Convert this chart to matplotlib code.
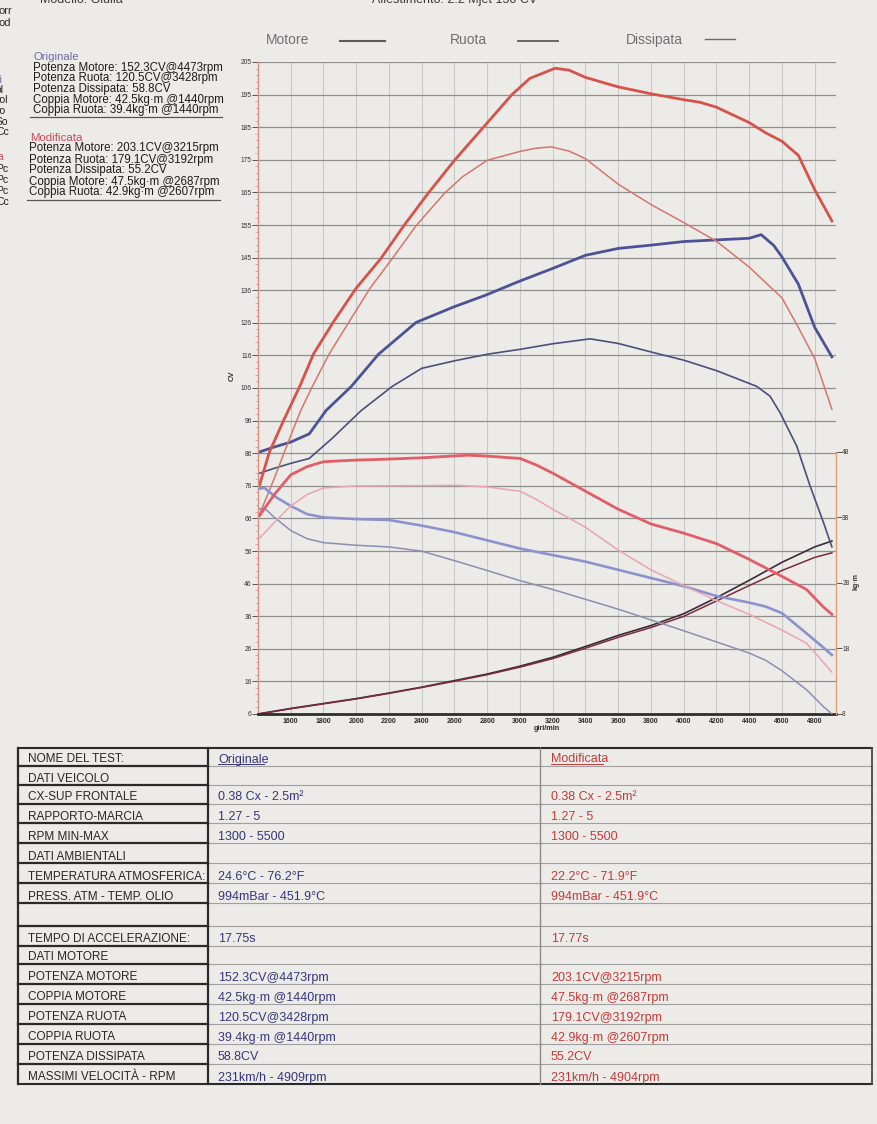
import matplotlib
matplotlib.use("Agg")
import matplotlib.pyplot as plt
from matplotlib.ticker import FixedLocator
import numpy as np

W, H = 878, 1124
PAPER = "#ecebe8"

# ---- power curves (CV) ----
mod_motore_rpm = [1410, 1470, 1560, 1655, 1740, 1865, 2000, 2150, 2290, 2440, 2600, 2775,
                  2950, 3060, 3215, 3300, 3400, 3600, 3800, 4000, 4100, 4200, 4400, 4500,
                  4600, 4700, 4800, 4905]
mod_motore_cv = [76, 86, 96, 106, 116, 126, 136, 145, 155, 165, 175, 185,
                 195, 200, 203.1, 202.5, 200.3, 197.4, 195.3, 193.5, 192.7, 191.2, 186.5, 183.4,
                 180.8, 176.5, 166, 156.5]

mod_ruota_rpm = [1410, 1500, 1600, 1660, 1732, 1836, 1960, 2085, 2220, 2365, 2540, 2650,
                 2800, 3000, 3100, 3192, 3300, 3400, 3600, 3800, 4000, 4200, 4400, 4600,
                 4700, 4800, 4905]
mod_ruota_cv = [67, 78, 91, 98.5, 106, 116, 126, 136, 145, 155, 165, 170,
                175, 177.7, 178.7, 179.1, 177.8, 175.5, 167.7, 161.5, 156, 150.3, 142.4, 133,
                124, 114.5, 99]

orig_motore_rpm = [1410, 1500, 1600, 1713, 1815, 1970, 2136, 2365, 2593, 2794, 2997, 3195,
                   3400, 3600, 3800, 4000, 4200, 4400, 4473, 4550, 4600, 4700, 4800, 4905]
orig_motore_cv = [86, 87.5, 89, 91.5, 98.6, 106, 115.8, 125.5, 130.2, 133.9, 138.1, 141.9,
                  146, 148.1, 149.1, 150.2, 150.7, 151.2, 152.3, 149, 145.5, 137.2, 124, 115]

orig_ruota_rpm = [1410, 1500, 1600, 1713, 1850, 2030, 2220, 2400, 2600, 2800, 3000, 3200,
                  3428, 3600, 3800, 4000, 4200, 4446, 4527, 4588, 4690, 4771, 4851, 4905]
orig_ruota_cv = [79.5, 81, 82.5, 84, 90, 98.6, 106, 111.5, 113.8, 115.8, 117.3, 119,
                 120.5, 119.1, 116.5, 114, 110.8, 106, 103, 98, 87.8, 75.7, 64.8, 57]

diss_rpm = [1400, 1600, 1800, 2000, 2200, 2400, 2600, 2800, 3000, 3200, 3400, 3600,
            3800, 4000, 4200, 4400, 4600, 4800, 4905]
diss_orig_cv = [6, 7.7, 9.2, 10.7, 12.4, 14.2, 16.2, 18.2, 20.6, 23.3, 26.6, 30,
                33, 36.6, 41.5, 46.8, 52.3, 57.0, 58.8]
diss_mod_cv = [6, 7.6, 9.1, 10.6, 12.3, 14.1, 16.0, 18.0, 20.3, 22.9, 26.1, 29.4,
               32.4, 35.8, 40.5, 45.2, 49.8, 53.8, 55.2]

# ---- torque curves (kg·m, right scale) ----
mod_coppia_rpm = [1410, 1500, 1600, 1700, 1800, 2000, 2200, 2400, 2687, 2800, 3000, 3100,
                  3200, 3400, 3600, 3800, 4000, 4200, 4400, 4600, 4750, 4850, 4905]
mod_coppia_kgm = [38.3, 41.5, 44.5, 45.75, 46.5, 46.75, 46.9, 47.1, 47.5, 47.35, 47.0, 46.0,
                  44.75, 42.0, 39.25, 37.0, 35.6, 34.0, 31.6, 29.0, 27.0, 24.4, 23.2]

mod_coppia_ruota_rpm = [1410, 1500, 1600, 1700, 1800, 2000, 2400, 2607, 2800, 3000, 3100,
                        3200, 3400, 3600, 3800, 4000, 4200, 4400, 4600, 4750, 4905]
mod_coppia_ruota_kgm = [34.85, 37.25, 39.75, 41.5, 42.5, 42.8, 42.85, 42.9, 42.65, 42.0, 40.75,
                        39.25, 36.5, 33.0, 30.0, 27.6, 25.3, 23.2, 20.8, 18.8, 14.4]

orig_coppia_rpm = [1410, 1440, 1500, 1600, 1700, 1800, 2000, 2200, 2400, 2600, 2800, 3000,
                   3200, 3400, 3600, 3800, 4000, 4200, 4400, 4500, 4600, 4750, 4850, 4905]
orig_coppia_kgm = [42.4, 42.5, 41.25, 39.75, 38.5, 38.0, 37.75, 37.6, 36.75, 35.75, 34.5, 33.25,
                   32.25, 31.25, 30.0, 28.75, 27.5, 26.0, 25.0, 24.4, 23.4, 20.3, 18.2, 17.0]
orig_coppia_ruota_kgm = [39.3, 39.4, 38.0, 36.0, 34.75, 34.15, 33.75, 33.5, 32.85, 31.4, 29.9, 28.35,
                         27.0, 25.5, 24.0, 22.35, 20.7, 19.0, 17.3, 16.2, 14.6, 11.7, 9.2, 8.0]

# ---- axis labels as printed ----
cv_labels = ["6", "16", "26", "36", "46", "56", "66", "76", "86", "96", "106", "116",
             "126", "136", "145", "155", "165", "175", "185", "195", "205"]
rpm_ticks = list(range(1600, 4801, 200))
kgm_ticks = [8, 18, 28, 38, 48]

# ---- summary texts ----
orig_summary = ["Potenza Motore: 152.3CV@4473rpm", "Potenza Ruota: 120.5CV@3428rpm",
                "Potenza Dissipata: 58.8CV", "Coppia Motore: 42.5kg·m @1440rpm",
                "Coppia Ruota: 39.4kg·m @1440rpm"]
mod_summary = ["Potenza Motore: 203.1CV@3215rpm", "Potenza Ruota: 179.1CV@3192rpm",
               "Potenza Dissipata: 55.2CV", "Coppia Motore: 47.5kg·m @2687rpm",
               "Coppia Ruota: 42.9kg·m @2607rpm"]

row_labels = ["NOME DEL TEST:", "DATI VEICOLO", "CX-SUP FRONTALE", "RAPPORTO-MARCIA",
              "RPM MIN-MAX", "DATI AMBIENTALI", "TEMPERATURA ATMOSFERICA:",
              "PRESS. ATM - TEMP. OLIO", "", "TEMPO DI ACCELERAZIONE:", "DATI MOTORE",
              "POTENZA MOTORE", "COPPIA MOTORE", "POTENZA RUOTA", "COPPIA RUOTA",
              "POTENZA DISSIPATA", "MASSIMI VELOCITÀ - RPM"]
col_orig = ["Originale", "", "0.38 Cx - 2.5m²", "1.27 - 5", "1300 - 5500", "",
            "24.6°C - 76.2°F", "994mBar - 451.9°C", "", "17.75s", "",
            "152.3CV@4473rpm", "42.5kg·m @1440rpm", "120.5CV@3428rpm",
            "39.4kg·m @1440rpm", "58.8CV", "231km/h - 4909rpm"]
col_mod = ["Modificata", "", "0.38 Cx - 2.5m²", "1.27 - 5", "1300 - 5500", "",
           "22.2°C - 71.9°F", "994mBar - 451.9°C", "", "17.77s", "",
           "203.1CV@3215rpm", "47.5kg·m @2687rpm", "179.1CV@3192rpm",
           "42.9kg·m @2607rpm", "55.2CV", "231km/h - 4904rpm"]

plt.rcParams['font.family'] = ['Liberation Sans', 'DejaVu Sans']


def px_rect(l, t, r, b):
    return [l / W, 1 - b / H, (r - l) / W, (b - t) / H]


fig = plt.figure(figsize=(W / 100, H / 100), dpi=100, facecolor=PAPER)

# page layer in pixel coordinates (texts, legend, table)
page = fig.add_axes([0, 0, 1, 1], zorder=0)
page.set_xlim(0, W)
page.set_ylim(H, 0)
page.set_axis_off()

# ---- chart ----
ax = fig.add_axes(px_rect(258, 62, 836, 714), zorder=2)
ax.set_facecolor("none")
ax.set_xlim(1400, 4930)
ax.set_ylim(6, 205)
cv_ticks = np.linspace(6, 205, len(cv_labels))
ax.set_yticks(cv_ticks)
ax.set_yticklabels(cv_labels)
ax.yaxis.set_minor_locator(FixedLocator(np.linspace(6, 205, 101)))
ax.set_xticks(rpm_ticks)
ax.set_xticklabels([str(t) for t in rpm_ticks])
ax.grid(axis="y", color="#8f8f8f", lw=0.9)
ax.grid(axis="x", color="#c8c8c8", lw=0.8)
ax.axvline(4930, color="#c8c8c8", lw=0.8)
ax.set_axisbelow(True)
for s in ("top", "right"):
    ax.spines[s].set_visible(False)
ax.spines["left"].set_color("#d9907f")
ax.spines["left"].set_linewidth(1.0)
ax.spines["bottom"].set_color("#2e2e2e")
ax.spines["bottom"].set_linewidth(2.0)
ax.tick_params(axis="y", which="major", labelsize=4.8, length=4, width=0.7,
               color="#555555", labelcolor="#333333", pad=0.5)
ax.tick_params(axis="y", which="minor", length=2, width=0.5, color="#e08a80")
ax.tick_params(axis="x", labelsize=5, length=0, pad=3, labelcolor="#2a2a2a")
for lab in ax.get_xticklabels():
    lab.set_fontweight("bold")
ax.set_xlabel("giri/min", fontsize=5.2, fontweight="bold", labelpad=0, color="#2a2a2a")

ax.plot(diss_rpm, diss_orig_cv, color="#3b2a3c", lw=1.2)
ax.plot(diss_rpm, diss_mod_cv, color="#7a2c3c", lw=1.1)
ax.plot(orig_ruota_rpm, orig_ruota_cv, color="#4a4f7c", lw=1.2)
ax.plot(orig_motore_rpm, orig_motore_cv, color="#4b5396", lw=2.0)
ax.plot(mod_ruota_rpm, mod_ruota_cv, color="#d6756c", lw=1.1)
ax.plot(mod_motore_rpm, mod_motore_cv, color="#d6524a", lw=2.0)

# torque on the kg·m scale (2 CV per kg·m, 8 kg·m at the bottom line)
ax2 = ax.twinx()
ax2.set_zorder(3)
ax2.patch.set_visible(False)
ax2.set_ylim(8, 8 + (205 - 6) / 2)
ax2.set_yticks(kgm_ticks)
ax2.set_yticklabels([str(t) for t in kgm_ticks])
for s in ("top", "left", "bottom"):
    ax2.spines[s].set_visible(False)
ax2.spines["right"].set_bounds(8, 48)
ax2.spines["right"].set_color("#e2a070")
ax2.spines["right"].set_linewidth(1.0)
ax2.tick_params(axis="y", labelsize=4.8, length=4, width=0.7, color="#555555",
                labelcolor="#333333", pad=0.5)

ax2.plot(orig_coppia_rpm, orig_coppia_ruota_kgm, color="#8a8fb2", lw=1.1)
ax2.plot(orig_coppia_rpm, orig_coppia_kgm, color="#8c92cc", lw=1.9)
ax2.plot(mod_coppia_ruota_rpm, mod_coppia_ruota_kgm, color="#eaa4b2", lw=1.1)
ax2.plot(mod_coppia_rpm, mod_coppia_kgm, color="#e35d68", lw=2.0)

page.text(232, 376, "CV", rotation=90, fontsize=5.5, fontweight="bold", ha="center",
          va="center", color="#333333")
page.text(856, 582, "kg·m", rotation=90, fontsize=5, fontweight="bold", ha="center",
          va="center", color="#333333")

# ---- legend row ----
LEG = "#707074"
page.text(288, 40, "Motore", fontsize=10, color=LEG, ha="center", va="center")
page.plot([340, 385], [41, 41], color="#5a5a60", lw=1.5)
page.text(468, 40, "Ruota", fontsize=10, color=LEG, ha="center", va="center")
page.plot([518, 558], [41, 41], color="#5a5a60", lw=1.3)
page.text(654, 40, "Dissipata", fontsize=10, color=LEG, ha="center", va="center")
page.plot([705, 735], [39, 39], color="#6a6a70", lw=1.0)

# ---- cut-off header lines (the photo crops them at the top) ----
page.text(40, 3, "Modello: Giulia", fontsize=9, color="#3a3a3a", va="baseline")
page.text(372, 3, "Allestimento: 2.2 Mjet 150 CV", fontsize=9, color="#3a3a3a", va="baseline")
for y, s in [(11, "orr"), (23, "od")]:
    page.text(-2, y, s, fontsize=8, color="#2a2a2a", va="center")
for y, s, c in [(80, "ri", "#6a6a9a"), (90, "ol", "#222"), (100, "rol", "#222"),
                (111, "ro", "#222"), (122, "So", "#222"), (132, "Cc", "#222"),
                (157, "ta", "#d0455a"), (169, "Pc", "#222"), (180, "Pc", "#222"),
                (191, "Pc", "#222"), (202, "Cc", "#222")]:
    page.text(-4, y, s, fontsize=7.5, color=c, va="center")

# ---- summary block ----
page.text(34, 57, "Originale", fontsize=8.2, color="#6c6ca6", va="center")
for i, s in enumerate(orig_summary):
    page.text(33, 67.5 + i * 10.7, s, fontsize=8.3, color="#1c1c1c", va="center")
page.plot([30, 222], [117, 117], color="#555555", lw=0.9)
page.text(30, 138, "Modificata", fontsize=8.2, color="#d0455a", va="center")
for i, s in enumerate(mod_summary):
    page.text(29, 148.5 + i * 11.0, s, fontsize=8.3, color="#1c1c1c", va="center")
page.plot([27, 220], [200, 200], color="#555555", lw=0.9)

# ---- table ----
row_edges = [748, 766, 785, 804, 823, 843, 863, 883, 903, 926, 946, 964, 984, 1004,
             1024, 1044, 1064, 1084]
TL, C1, C2, TR = 18, 208, 540, 872
for y in row_edges[1:-1]:
    page.plot([C1, TR], [y, y], color="#a0a0a0", lw=0.8)
    page.plot([TL, C1], [y, y], color="#2a2a2a", lw=1.6)
page.plot([TL, TR], [row_edges[0], row_edges[0]], color="#2a2a2a", lw=1.5)
page.plot([TL, TR], [row_edges[-1], row_edges[-1]], color="#2a2a2a", lw=1.5)
page.plot([TL, TL], [row_edges[0], row_edges[-1]], color="#2a2a2a", lw=1.6)
page.plot([C1, C1], [row_edges[0], row_edges[-1]], color="#2a2a2a", lw=1.6)
page.plot([C2, C2], [row_edges[0], row_edges[-1]], color="#8a8a8a", lw=1.0)
page.plot([TR, TR], [row_edges[0], row_edges[-1]], color="#4a4a4a", lw=1.3)

for i in range(len(row_labels)):
    yb = row_edges[i + 1] - 3.5
    page.text(28, yb, row_labels[i], fontsize=8.5, color="#262626", va="baseline")
    page.text(218, yb, col_orig[i], fontsize=9, color="#36367a", va="baseline")
    page.text(551, yb, col_mod[i], fontsize=9, color="#c23a3a", va="baseline")
page.plot([218, 264], [764, 764], color="#36367a", lw=0.7)
page.plot([551, 603], [764, 764], color="#c23a3a", lw=0.7)

fig.savefig("out.png", dpi=100, facecolor=PAPER)
plt.close(fig)
